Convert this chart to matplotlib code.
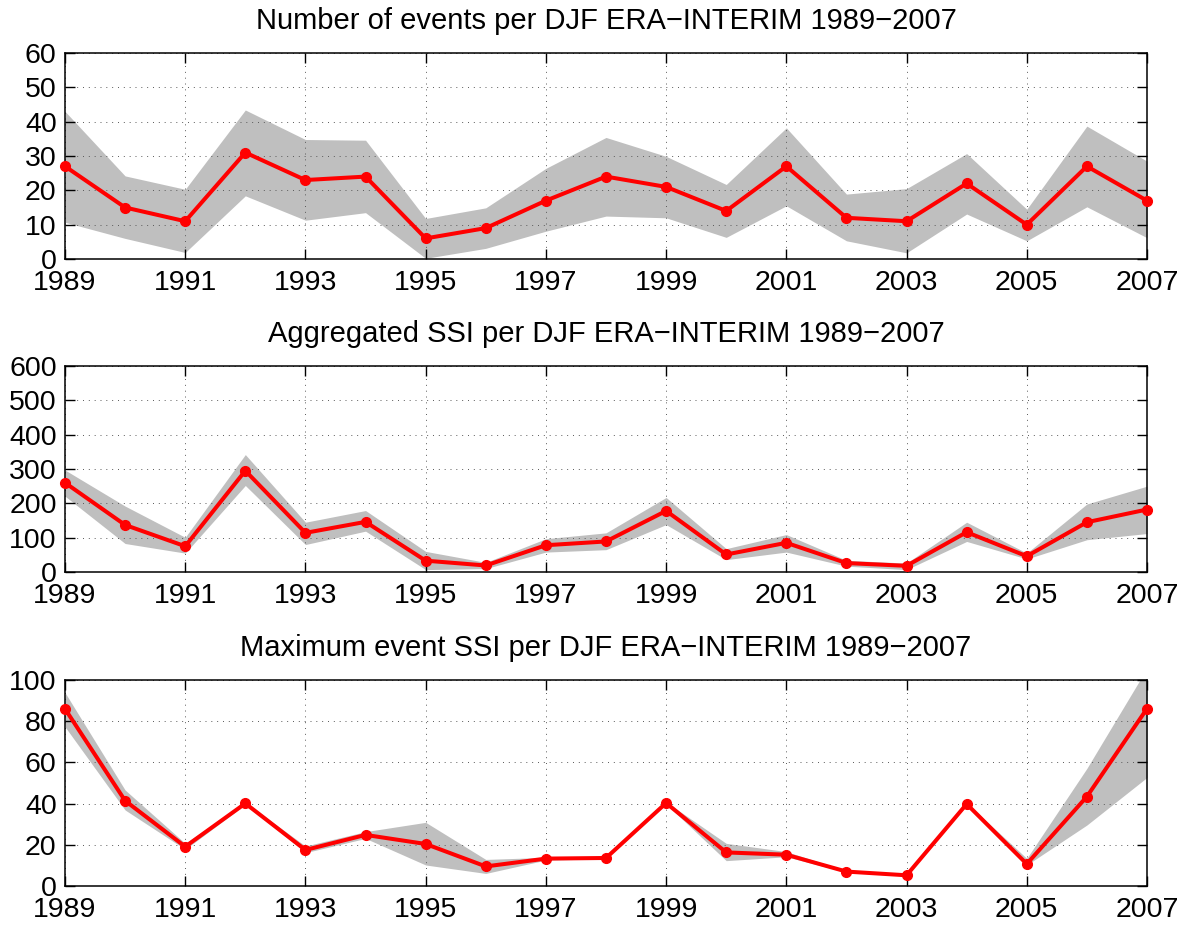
import matplotlib
matplotlib.use("Agg")
import matplotlib.pyplot as plt
import numpy as np

plt.rcParams['font.family'] = ['Liberation Sans', 'DejaVu Sans']

years = np.arange(1989, 2008)

# Number of events per DJF
n_events = [27, 15, 11, 31, 23, 24, 6, 9, 17, 24, 21, 14, 27, 12, 11, 22, 10, 27, 17]
n_events_hi = [43.0, 24.2, 20.3, 43.4, 34.8, 34.6, 11.8, 14.9, 26.4, 35.4, 29.9, 21.7,
               38.2, 18.9, 20.5, 30.7, 14.5, 38.7, 28.5]
n_events_lo = [10.7, 6.0, 1.9, 18.4, 11.3, 13.5, 0.2, 3.1, 8.1, 12.5, 12.0, 6.3,
               15.5, 5.3, 1.8, 13.1, 5.3, 15.2, 6.2]

# Aggregated SSI per DJF
agg_ssi = [260, 137, 75, 295, 114, 146, 33, 19, 78, 89, 178, 51, 85, 26, 18, 116, 46, 145, 182]
agg_ssi_hi = [297, 192, 101, 342, 145, 179, 60, 28, 97, 114, 217, 68, 109, 34, 26, 145, 55, 198, 250]
agg_ssi_lo = [221, 83, 55, 252, 80, 119, 7, 10, 58, 65, 138, 36, 58, 17, 7, 89, 38, 94, 112]

# Maximum event SSI per DJF
max_ssi = [86, 41.4, 19.1, 40.1, 17.5, 24.8, 20.4, 9.5, 13.3, 13.6, 40.3, 16.3, 15.2,
           7.0, 5.2, 39.8, 10.7, 43.4, 86.1]
max_ssi_hi = [93.9, 46.6, 20.7, 40.6, 19.4, 26.4, 30.9, 12.9, 13.9, 14.0, 40.8, 20.7, 16.7,
              7.4, 5.6, 40.3, 13.4, 57.1, 105.7]
max_ssi_lo = [77.3, 36.9, 17.8, 39.6, 16.2, 23.1, 10.2, 6.1, 12.6, 13.2, 39.8, 12.3, 14.2,
              6.6, 4.8, 39.3, 10.2, 29.6, 52.7]

titles = [
    "Number of events per DJF ERA\u2212INTERIM 1989\u22122007",
    "Aggregated SSI per DJF ERA\u2212INTERIM 1989\u22122007",
    "Maximum event SSI per DJF ERA\u2212INTERIM 1989\u22122007",
]
y_limits = [(0, 60), (0, 600), (0, 100)]
y_steps = [10, 100, 20]
x_ticks = np.arange(1989, 2008, 2)

panels = [
    (n_events, n_events_lo, n_events_hi),
    (agg_ssi, agg_ssi_lo, agg_ssi_hi),
    (max_ssi, max_ssi_lo, max_ssi_hi),
]

fig = plt.figure(figsize=(11.9, 9.31), dpi=100)
W, H = 1190.0, 931.0
left_px, right_px = 65, 1147
tops = [53, 366, 680]
bottoms = [259, 572, 886]

for i, (mid, lo, hi) in enumerate(panels):
    ax = fig.add_axes([left_px / W, 1 - bottoms[i] / H,
                       (right_px - left_px) / W, (bottoms[i] - tops[i]) / H])
    ax.fill_between(years, lo, hi, color='#bfbfbf', linewidth=0, zorder=1)
    ax.plot(years, mid, color='red', linewidth=2.9, marker='o', markersize=7,
            zorder=5, clip_on=False)
    ax.set_xlim(1989, 2007)
    ax.set_ylim(*y_limits[i])
    ax.set_xticks(x_ticks)
    ax.set_xticklabels([str(y) for y in x_ticks])
    ax.set_yticks(np.arange(y_limits[i][0], y_limits[i][1] + 1, y_steps[i]))
    ax.grid(True, color='0.35', linestyle=(0, (1, 5)), linewidth=0.7)
    ax.tick_params(direction='in', length=7.5, width=1.0, top=True, right=True,
                   labelsize=20.5, pad=6, colors='black')
    ax.tick_params(axis='x', pad=8)
    for s in ax.spines.values():
        s.set_linewidth(1.1)
        s.set_zorder(3)
    ax.set_title(titles[i], fontsize=21, pad=17)

fig.savefig("out.png", dpi=100)
